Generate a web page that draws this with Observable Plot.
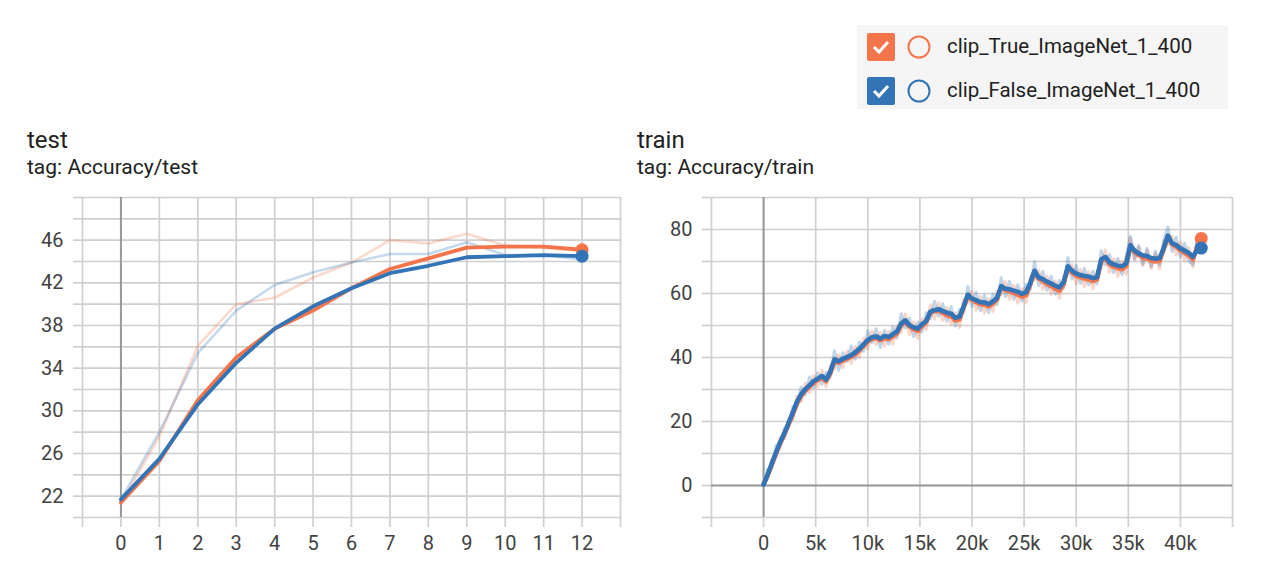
<!DOCTYPE html>
<html><head><meta charset="utf-8">
<script src="https://cdn.jsdelivr.net/npm/d3@7"></script>
<script src="https://cdn.jsdelivr.net/npm/@observablehq/plot@0.6"></script>
<style>
body{margin:0;background:#fff;font-family:Roboto,"Noto Sans",sans-serif;width:1282px;height:573px;overflow:hidden;position:relative}
.t{position:absolute;color:#212121;font-size:24px;line-height:28px}
.s{position:absolute;color:#212121;font-size:21px;line-height:24px}
#legend{position:absolute;left:857px;top:25px;width:371px;height:84px;background:#f5f5f5}
.row{position:absolute;left:0;width:371px;height:30px}
.cb{position:absolute;left:10px;top:0;width:28px;height:28px;border-radius:2px}
.ci{position:absolute;left:50px;top:2px}
.lt{position:absolute;left:90px;top:1px;font-size:20.5px;color:#212121;line-height:24px}
.chart{position:absolute;top:180px}
</style></head>
<body>
<div class="t" style="left:27px;top:126px">test</div>
<div class="s" style="left:27px;top:155px">tag: Accuracy/test</div>
<div class="t" style="left:637px;top:126px">train</div>
<div class="s" style="left:637px;top:155px">tag: Accuracy/train</div>
<div id="legend"></div>
<div class="chart" id="left" style="left:0"></div>
<div class="chart" id="right" style="left:630px"></div>
<script>
const seriesNames = ["clip_True_ImageNet_1_400", "clip_False_ImageNet_1_400"];
const seriesColors = ["#f4754c", "#3374b6"];

// test chart
const testEpochs = [0,1,2,3,4,5,6,7,8,9,10,11,12];
const testTrueRaw    = [21.3, 27.6, 36.1, 40.0, 40.6, 42.5, 43.9, 46.0, 45.7, 46.6, 45.5, 45.3, 45.0];
const testFalseRaw   = [21.7, 28.0, 35.4, 39.4, 41.8, 43.0, 43.9, 44.7, 44.7, 45.8, 44.6, 44.6, 44.2];
const testTrueSmooth = [21.4, 25.3, 31.0, 35.0, 37.7, 39.4, 41.5, 43.3, 44.3, 45.3, 45.4, 45.4, 45.1];
const testFalseSmooth= [21.7, 25.5, 30.6, 34.5, 37.7, 39.8, 41.5, 42.9, 43.6, 44.4, 44.5, 44.6, 44.5];
const testXGrid = [-1,0,1,2,3,4,5,6,7,8,9,10,11,12,13];
const testYGrid = [20,22,24,26,28,30,32,34,36,38,40,42,44,46,48,50];
const testYLabels = [22,26,30,34,38,42,46];

// train chart
const trainSteps = d3.range(0, 42001, 400);
const trainFalseSmooth = [0.3,3.5,7.0,10.4,13.6,16.4,19.6,22.8,26.2,28.5,
30.1,31.3,32.6,33.4,34.2,33.1,35.6,39.4,38.8,39.6,
40.1,40.7,41.6,42.7,44.1,45.4,46.3,46.6,45.9,46.7,
46.4,47.3,48.1,50.6,51.6,50.1,49.4,49.0,50.4,51.4,
54.3,54.8,55.1,54.5,54.0,53.7,52.4,52.7,56.0,59.6,
58.4,57.9,57.3,57.2,56.7,57.5,58.6,62.3,61.5,61.3,
60.9,60.5,59.9,60.4,63.4,67.1,65.0,64.5,63.7,63.1,
62.4,61.9,63.6,68.5,67.1,66.2,65.8,65.5,65.3,64.8,
65.1,70.6,71.4,69.7,69.1,68.7,68.5,69.4,75.1,73.4,
72.5,71.9,71.7,71.1,70.9,71.0,74.2,78.1,75.7,75.1,
74.1,73.4,72.7,71.5,73.6,74.2];
const trainTrueSmooth = [0.5,3.2,6.6,10.0,13.2,16.0,19.1,22.2,25.6,28.0,
29.6,30.9,32.1,33.0,33.6,32.6,35.0,38.9,38.4,39.0,
39.6,40.2,41.0,42.2,43.6,45.0,45.8,46.1,45.4,46.0,
45.8,46.6,47.5,50.2,51.2,49.7,48.8,48.3,49.8,51.0,
54.0,54.5,54.6,54.0,53.2,52.9,51.6,51.9,55.6,59.3,
58.0,57.3,56.7,56.5,56.0,56.8,58.1,62.0,61.1,60.7,
60.2,59.6,59.0,59.5,62.9,66.8,64.6,63.9,63.0,62.3,
61.5,60.9,62.9,68.2,66.6,65.6,65.1,64.7,64.4,63.9,
64.4,70.2,71.0,69.1,68.4,67.9,67.6,68.6,74.8,73.0,
72.0,71.2,70.9,70.3,70.0,70.2,73.8,77.8,75.4,74.6,
73.5,72.7,71.9,70.7,74.4,77.2];
const trainFalseRaw = [0.8,5.0,5.8,12.6,12.4,17.9,18.2,24.6,24.7,30.8,
28.3,33.9,30.5,35.2,31.6,35.4,33.8,42.1,36.0,41.5,
38.7,43.6,39.5,44.8,41.9,48.3,44.6,49.0,43.1,48.5,
44.2,49.6,46.0,53.7,49.2,52.3,46.5,51.1,47.9,54.0,
52.1,57.6,52.9,56.8,51.3,55.9,49.8,55.0,54.2,62.3,
55.9,60.4,54.6,59.5,54.1,59.8,56.5,64.9,59.0,63.8,
58.2,62.7,57.6,62.9,61.2,70.0,62.4,66.9,61.0,65.4,
59.8,64.1,61.7,71.2,64.6,68.8,63.1,67.9,62.7,67.0,
63.0,73.4,68.9,72.2,66.5,71.0,65.9,71.8,77.9,70.8,
75.0,69.2,74.1,68.5,73.2,68.9,76.5,80.8,73.1,77.6,
71.4,75.8,70.1,69.0,76.3,73.5];
const trainTrueRaw = [1.2,2.4,8.3,8.9,15.1,14.6,21.0,20.5,27.9,26.1,
32.0,29.0,34.3,30.8,36.0,30.9,37.3,36.6,40.9,36.8,
42.0,38.1,43.4,40.0,46.1,42.7,48.2,43.9,47.8,43.5,
48.1,44.2,49.9,47.8,53.6,47.1,51.2,45.9,52.1,48.7,
56.5,52.0,57.1,51.6,55.7,50.3,54.0,49.4,58.2,56.9,
60.6,54.8,59.1,53.9,58.4,54.3,60.7,59.6,63.7,58.1,
62.6,57.0,61.5,57.0,65.4,64.3,67.2,61.3,65.5,59.8,
64.0,58.5,65.5,65.8,69.1,63.0,67.6,62.1,66.9,61.4,
66.8,67.7,73.6,66.6,70.9,65.3,70.1,66.1,77.3,70.4,
74.5,68.7,73.4,67.8,72.5,67.7,76.3,75.2,77.9,72.0,
76.0,70.2,74.4,68.2,76.9,78.8];
const trainXGrid = [-5000,0,5000,10000,15000,20000,25000,30000,35000,40000,45000];
const trainYGrid = [-10,0,10,20,30,40,50,60,70,80,90];
const trainYLabels = [0,20,40,60,80];

// legend
const legend = document.getElementById("legend");
seriesNames.forEach((name, i) => {
  const row = document.createElement("div");
  row.className = "row";
  row.style.top = (8 + i * 44) + "px";
  row.innerHTML =
    `<div class="cb" style="background:${seriesColors[i]}"><svg width="28" height="28"><polyline points="7,14 12,19 21,9" fill="none" stroke="#fff" stroke-width="3"/></svg></div>` +
    `<svg class="ci" width="26" height="26"><circle cx="12" cy="12" r="10.5" fill="none" stroke="${seriesColors[i]}" stroke-width="2"/></svg>` +
    `<div class="lt">${name}</div>`;
  legend.appendChild(row);
});

const gridColor = "#cfcfcf";
const axisStyle = {fontFamily: "Roboto, 'Noto Sans', sans-serif", fontSize: "20px", color: "#424242", background: "transparent", overflow: "visible"};

function lineMarks(xs, rawT, rawF, smT, smF, w, rawW, rawOp) {
  const n = xs.length - 1;
  return [
    Plot.line(xs, {x: xs, y: rawT, stroke: seriesColors[0], strokeOpacity: rawOp, strokeWidth: rawW}),
    Plot.line(xs, {x: xs, y: rawF, stroke: seriesColors[1], strokeOpacity: rawOp, strokeWidth: rawW}),
    Plot.line(xs, {x: xs, y: smT, stroke: seriesColors[0], strokeWidth: w}),
    Plot.line(xs, {x: xs, y: smF, stroke: seriesColors[1], strokeWidth: w}),
    Plot.dot([xs[n]], {x: [xs[n]], y: [smT[n]], r: 6.5, fill: seriesColors[0]}),
    Plot.dot([xs[n]], {x: [xs[n]], y: [smF[n]], r: 6.5, fill: seriesColors[1]})
  ];
}

const left = Plot.plot({
  width: 630, height: 393,
  marginLeft: 82, marginRight: 10, marginTop: 17, marginBottom: 56,
  x: {domain: [-1, 13]}, y: {domain: [20, 50]},
  style: axisStyle,
  marks: [
    Plot.ruleX(testXGrid, {stroke: gridColor, strokeWidth: 1.7}),
    Plot.ruleY(testYGrid, {stroke: gridColor, strokeWidth: 1.7}),
    Plot.ruleX([0], {stroke: "#999", strokeWidth: 2}),
    Plot.axisX(testXGrid, {tickSize: 10, tickPadding: 8, stroke: gridColor, strokeWidth: 1.7, fill: "#424242", tickFormat: d => (d >= 0 && d <= 12) ? String(d) : "", label: null}),
    Plot.axisY(testYGrid, {tickSize: 9, tickPadding: 10, stroke: gridColor, strokeWidth: 1.7, fill: "#424242", tickFormat: d => testYLabels.includes(d) ? String(d) : "", label: null}),
    ...lineMarks(testEpochs, testTrueRaw, testFalseRaw, testTrueSmooth, testFalseSmooth, 3.8, 2.6, 0.28)
  ]
});
document.getElementById("left").appendChild(left);

const right = Plot.plot({
  width: 652, height: 393,
  marginLeft: 81, marginRight: 50, marginTop: 17, marginBottom: 56,
  x: {domain: [-5000, 45000]}, y: {domain: [-10, 90]},
  style: axisStyle,
  marks: [
    Plot.ruleX(trainXGrid, {stroke: gridColor, strokeWidth: 1.7}),
    Plot.ruleY(trainYGrid, {stroke: gridColor, strokeWidth: 1.7}),
    Plot.ruleX([0], {stroke: "#999", strokeWidth: 2}),
    Plot.ruleY([0], {stroke: "#999", strokeWidth: 2}),
    Plot.axisX(trainXGrid, {tickSize: 10, tickPadding: 8, stroke: gridColor, strokeWidth: 1.7, fill: "#424242", tickFormat: d => (d === 0 ? "0" : (d > 0 && d <= 40000) ? (d / 1000) + "k" : ""), label: null}),
    Plot.axisY(trainYGrid, {tickSize: 9, tickPadding: 10, stroke: gridColor, strokeWidth: 1.7, fill: "#424242", tickFormat: d => trainYLabels.includes(d) ? String(d) : "", label: null}),
    ...lineMarks(trainSteps, trainTrueRaw, trainFalseRaw, trainTrueSmooth, trainFalseSmooth, 4.6, 3, 0.3)
  ]
});
document.getElementById("right").appendChild(right);
</script>
</body></html>
